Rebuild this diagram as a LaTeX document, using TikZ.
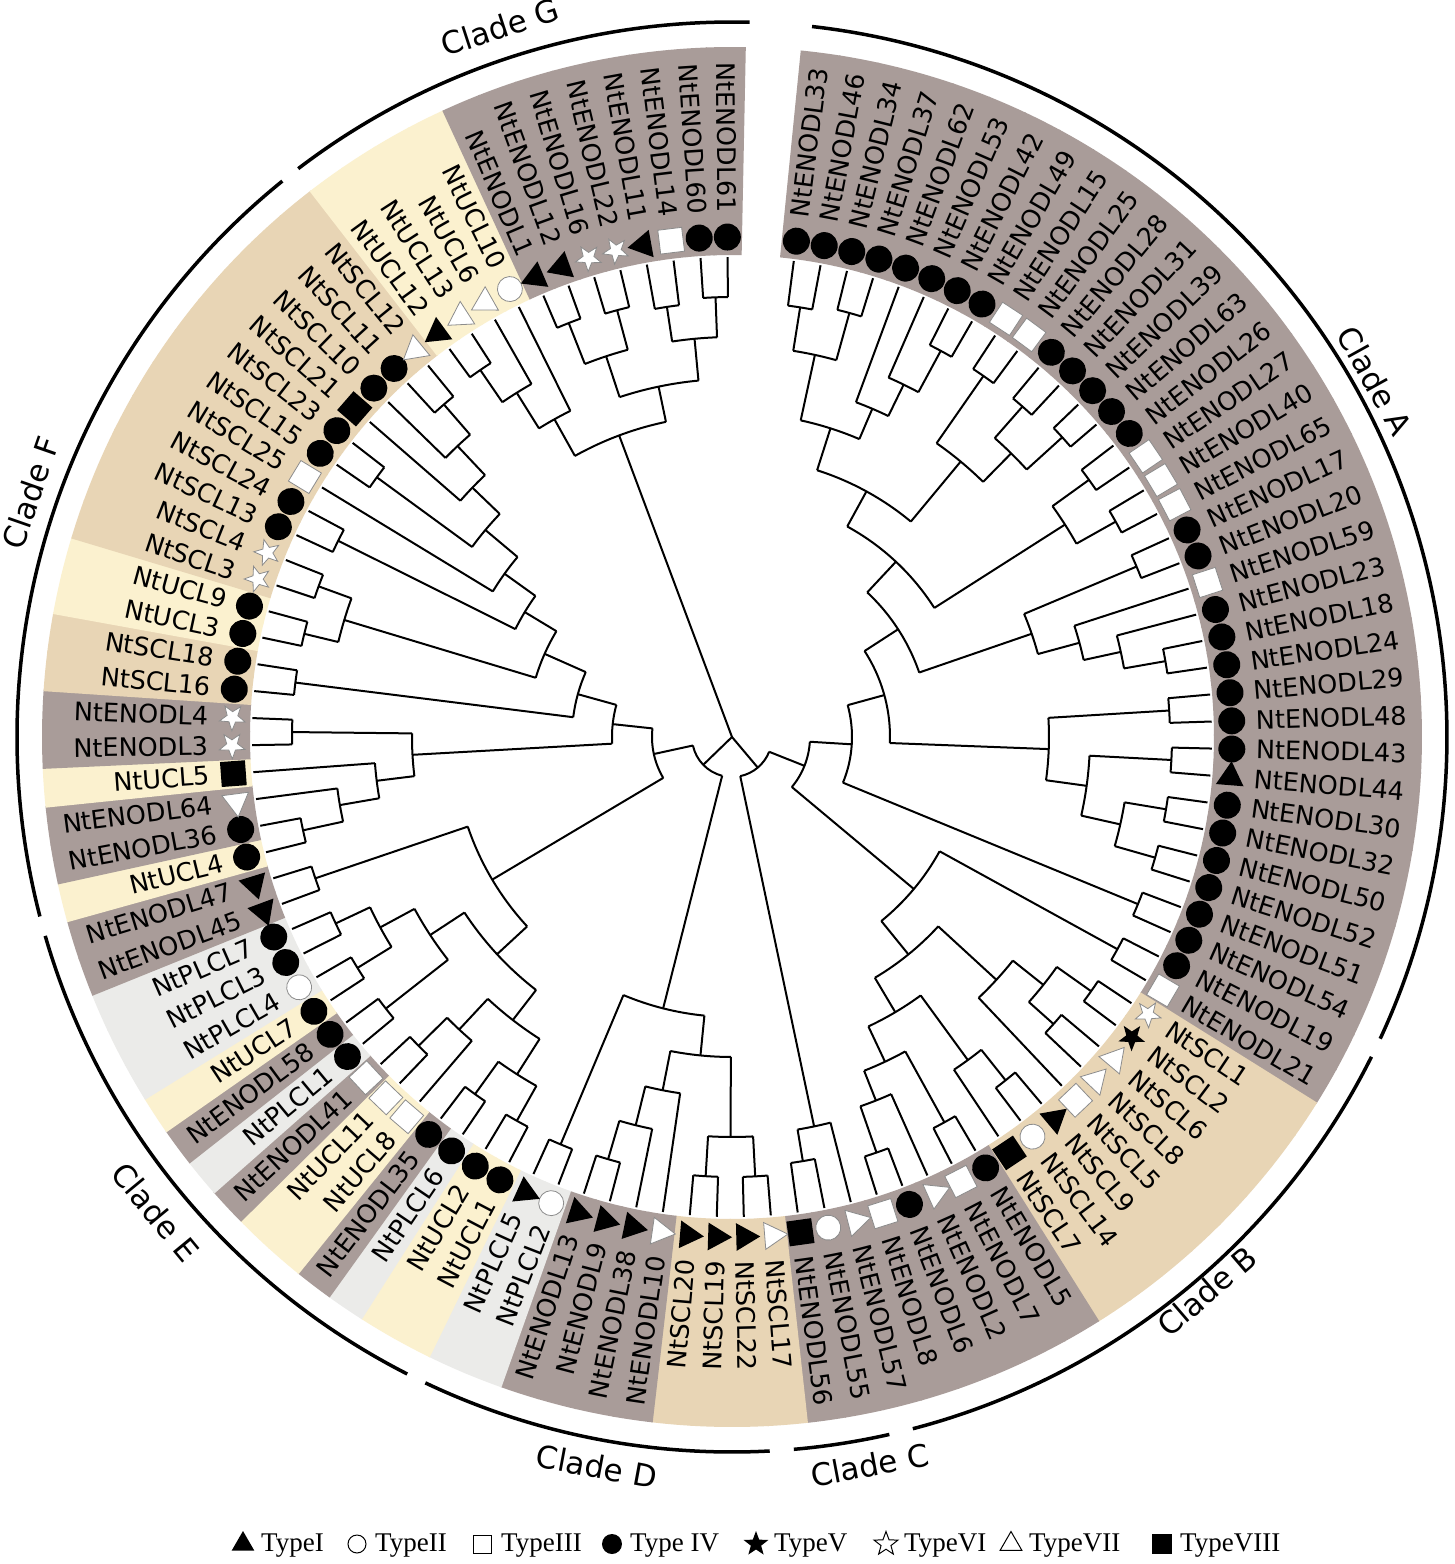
\documentclass[tikz,border=0pt]{standalone}
\usepackage{fontspec}
\setmainfont{DejaVu Sans}
\newfontfamily\legendfont{Liberation Serif}
\usetikzlibrary{shapes.geometric}

\definecolor{enodl}{HTML}{A99C99}
\definecolor{scl}{HTML}{E8D5B5}
\definecolor{ucl}{HTML}{FBF1CF}
\definecolor{plcl}{HTML}{EBEBE9}
\definecolor{rim}{HTML}{8C8C8C}

% angle and radius of every tree node
\newcommand\setnode[3]{%
  \expandafter\xdef\csname na@#1\endcsname{#2}%
  \expandafter\xdef\csname nr@#1\endcsname{#3}}
% join two children at radius #2
\newcommand\jn[4]{%
  \pgfmathsetmacro\ja{\csname na@#3\endcsname}%
  \pgfmathsetmacro\jb{\csname na@#4\endcsname}%
  \draw[branch] (\ja:#2pt) arc[start angle=\ja, end angle=\jb, radius=#2pt]
    (\ja:#2pt) -- (\ja:\csname nr@#3\endcsname pt)
    (\jb:#2pt) -- (\jb:\csname nr@#4\endcsname pt);
  \pgfmathsetmacro\jm{(\ja+\jb)/2}%
  \setnode{#1}{\jm}{#2}}

\newcommand\leaflist{0/enodl/ENODL33/c, 1/enodl/ENODL46/c, 2/enodl/ENODL34/c,
  3/enodl/ENODL37/c, 4/enodl/ENODL62/c, 5/enodl/ENODL53/c, 6/enodl/ENODL42/c,
  7/enodl/ENODL49/c, 8/enodl/ENODL15/s, 9/enodl/ENODL25/s, 10/enodl/ENODL28/c,
  11/enodl/ENODL31/c, 12/enodl/ENODL39/c, 13/enodl/ENODL63/c, 14/enodl/ENODL26/c,
  15/enodl/ENODL27/s, 16/enodl/ENODL40/s, 17/enodl/ENODL65/s, 18/enodl/ENODL17/c,
  19/enodl/ENODL20/c, 20/enodl/ENODL59/s, 21/enodl/ENODL23/c, 22/enodl/ENODL18/c,
  23/enodl/ENODL24/c, 24/enodl/ENODL29/c, 25/enodl/ENODL48/c, 26/enodl/ENODL43/c,
  27/enodl/ENODL44/t, 28/enodl/ENODL30/c, 29/enodl/ENODL32/c, 30/enodl/ENODL50/c,
  31/enodl/ENODL52/c, 32/enodl/ENODL51/c, 33/enodl/ENODL54/c, 34/enodl/ENODL19/c,
  35/enodl/ENODL21/s, 36/scl/SCL1/R, 37/scl/SCL2/r, 38/scl/SCL6/T, 39/scl/SCL8/T,
  40/scl/SCL5/s, 41/scl/SCL9/t, 42/scl/SCL14/o, 43/scl/SCL7/S, 44/enodl/ENODL5/c,
  45/enodl/ENODL7/s, 46/enodl/ENODL2/T, 47/enodl/ENODL6/c, 48/enodl/ENODL8/s,
  49/enodl/ENODL57/T, 50/enodl/ENODL55/o, 51/enodl/ENODL56/S, 52/scl/SCL17/T,
  53/scl/SCL22/t, 54/scl/SCL19/t, 55/scl/SCL20/t, 56/enodl/ENODL10/T,
  57/enodl/ENODL38/t, 58/enodl/ENODL9/t, 59/enodl/ENODL13/t, 60/plcl/PLCL2/o,
  61/plcl/PLCL5/t, 62/ucl/UCL1/c, 63/ucl/UCL2/c, 64/plcl/PLCL6/c, 65/enodl/ENODL35/c,
  66/ucl/UCL8/s, 67/ucl/UCL11/s, 68/enodl/ENODL41/s, 69/plcl/PLCL1/c,
  70/enodl/ENODL58/c, 71/ucl/UCL7/c, 72/plcl/PLCL4/o, 73/plcl/PLCL3/c,
  74/plcl/PLCL7/c, 75/enodl/ENODL45/t, 76/enodl/ENODL47/t, 77/ucl/UCL4/c,
  78/enodl/ENODL36/c, 79/enodl/ENODL64/T, 80/ucl/UCL5/S, 81/enodl/ENODL3/R,
  82/enodl/ENODL4/R, 83/scl/SCL16/c, 84/scl/SCL18/c, 85/ucl/UCL3/c, 86/ucl/UCL9/c,
  87/scl/SCL3/R, 88/scl/SCL4/R, 89/scl/SCL13/c, 90/scl/SCL24/c, 91/scl/SCL25/s,
  92/scl/SCL15/c, 93/scl/SCL23/c, 94/scl/SCL21/S, 95/scl/SCL10/c, 96/scl/SCL11/c,
  97/scl/SCL12/T, 98/ucl/UCL12/t, 99/ucl/UCL13/T, 100/ucl/UCL6/T, 101/ucl/UCL10/o,
  102/enodl/ENODL1/t, 103/enodl/ENODL12/t, 104/enodl/ENODL16/R, 105/enodl/ENODL22/R,
  106/enodl/ENODL11/t, 107/enodl/ENODL14/s, 108/enodl/ENODL60/c, 109/enodl/ENODL61/c}

\begin{document}
\begin{tikzpicture}[
  branch/.style={line width=2pt, line cap=square},
  cladearc/.style={line width=3.5pt},
  lbl/.style={font=\fontsize{25.5}{28}\selectfont, inner sep=0pt},
  cladelbl/.style={font=\fontsize{31}{34}\selectfont, inner sep=0pt},
  legtxt/.style={font=\legendfont\fontsize{27}{30}\selectfont, inner sep=0pt},
  symc/.style={circle, fill=black, minimum size=27pt, inner sep=0pt},
  symo/.style={circle, fill=white, draw=rim, line width=0.8pt, minimum size=25pt, inner sep=0pt},
  syms/.style={rectangle, fill=white, draw=rim, line width=0.8pt, minimum size=24pt, inner sep=0pt},
  symS/.style={rectangle, fill=black, minimum size=25pt, inner sep=0pt},
  symt/.style={regular polygon, regular polygon sides=3, fill=black, minimum size=32pt, inner sep=0pt},
  symT/.style={regular polygon, regular polygon sides=3, fill=white, draw=rim, line width=0.8pt, minimum size=31pt, inner sep=0pt},
  symr/.style={star, star points=5, star point ratio=2.4, fill=black, minimum size=28pt, inner sep=0pt},
  symR/.style={star, star points=5, star point ratio=2.4, fill=white, draw=rim, line width=0.8pt, minimum size=27pt, inner sep=0pt},
  legc/.style={circle, fill=black, minimum size=20pt, inner sep=0pt},
  lego/.style={circle, draw=black, line width=1pt, minimum size=18pt, inner sep=0pt},
  legs/.style={rectangle, draw=black, line width=1pt, minimum size=18pt, inner sep=0pt},
  legS/.style={rectangle, fill=black, minimum size=20pt, inner sep=0pt},
  legt/.style={regular polygon, regular polygon sides=3, fill=black, minimum size=26pt, inner sep=0pt},
  legT/.style={regular polygon, regular polygon sides=3, draw=black, line width=1pt, minimum size=25pt, inner sep=0pt},
  legr/.style={star, star points=5, star point ratio=2.4, fill=black, minimum size=26pt, inner sep=0pt},
  legR/.style={star, star points=5, star point ratio=2.4, draw=black, line width=1pt, minimum size=25pt, inner sep=0pt},
]
\useasboundingbox[fill=white] (-732pt,-827pt) rectangle (723pt,737pt);

% coloured bands behind the labels
\foreach \i/\fm/\txt/\sym in \leaflist {
  \pgfmathsetmacro\a{82.6-3.23*\i}
  \pgfmathsetmacro\aL{\a+1.68}
  \pgfmathsetmacro\aR{\a-1.68}
  \fill[\fm] (\aL:482pt) arc[start angle=\aL, end angle=\aR, radius=482pt]
    -- (\aR:690pt) arc[start angle=\aR, end angle=\aL, radius=690pt] -- cycle;
}

% leaf tips
\foreach \i in {0,...,109} {
  \pgfmathsetmacro\a{82.6-3.23*\i}
  \setnode{l\i}{\a}{480}
}

% clade A
\jn{a01}{435}{l0}{l1}
\jn{a23}{440}{l2}{l3}
\jn{a03}{391}{a01}{a23}
\jn{a67}{439}{l6}{l7}
\jn{a57}{392}{l5}{a67}
\jn{a47}{357}{l4}{a57}
\jn{a07}{324}{a03}{a47}
\jn{a89}{440}{l8}{l9}
\jn{a1011}{440}{l10}{l11}
\jn{a1213}{446}{l12}{l13}
\jn{a1013}{398}{a1011}{a1213}
\jn{a813}{358}{a89}{a1013}
\jn{a013}{280}{a07}{a813}
\jn{a1415}{440}{l14}{l15}
\jn{a1617}{440}{l16}{l17}
\jn{a1417}{395}{a1415}{a1617}
\jn{a017}{240}{a013}{a1417}
\jn{a1819}{439}{l18}{l19}
\jn{a2223}{440}{l22}{l23}
\jn{a2123}{398}{l21}{a2223}
\jn{a2023}{360}{l20}{a2123}
\jn{a1823}{317}{a1819}{a2023}
\jn{a0023}{198}{a017}{a1823}
\jn{a2425}{438}{l24}{l25}
\jn{a2627}{440}{l26}{l27}
\jn{a2829}{440}{l28}{l29}
\jn{a3031}{440}{l30}{l31}
\jn{a2831}{398}{a2829}{a3031}
\jn{a2631}{358}{a2627}{a2831}
\jn{a2431}{317}{a2425}{a2631}
\jn{a0031}{158}{a0023}{a2431}
\jn{a3233}{439}{l32}{l33}
\jn{cA}{120}{a0031}{a3233}
% clade B
\jn{b3435}{440}{l34}{l35}
\jn{b3637}{440}{l36}{l37}
\jn{b3839}{431}{l38}{l39}
\jn{b3639}{398}{b3637}{b3839}
\jn{b3640}{359}{b3639}{l40}
\jn{b4142}{439}{l41}{l42}
\jn{b4143}{400}{b4142}{l43}
\jn{b4445}{440}{l44}{l45}
\jn{b4748}{440}{l47}{l48}
\jn{b4648}{391}{l46}{b4748}
\jn{b4448}{359}{b4445}{b4648}
\jn{b4148}{320}{b4143}{b4448}
\jn{b3648}{280}{b3640}{b4148}
\jn{cB}{237}{b3435}{b3648}
\jn{rAB}{78}{cA}{cB}
% clade C
\jn{c5051}{430}{l50}{l51}
\jn{cC}{398}{l49}{c5051}
\jn{rABC}{40}{rAB}{cC}
% clade D
\jn{d6061}{442}{l60}{l61}
\jn{d5859}{440}{l58}{l59}
\jn{d5759}{400}{l57}{d5859}
\jn{d5659}{360}{l56}{d5759}
\jn{d5455}{440}{l54}{l55}
\jn{d5253}{440}{l52}{l53}
\jn{d5255}{400}{d5253}{d5455}
\jn{d5259}{320}{d5255}{d5659}
\jn{cD}{280}{d5259}{d6061}
% clade E
\jn{e6263}{440}{l62}{l63}
\jn{e6465}{440}{l64}{l65}
\jn{e6265}{400}{e6263}{e6465}
\jn{e6768}{440}{l67}{l68}
\jn{e6668}{400}{l66}{e6768}
\jn{e6268}{358}{e6265}{e6668}
\jn{e6970}{440}{l69}{l70}
\jn{e7172}{440}{l71}{l72}
\jn{e7374}{438}{l73}{l74}
\jn{e7174}{400}{e7172}{e7374}
\jn{e6974}{361}{e6970}{e7174}
\jn{e6274}{320}{e6268}{e6974}
\jn{e7576}{440}{l75}{l76}
\jn{cE}{279}{e6274}{e7576}
% clade F
\jn{f7778}{439}{l77}{l78}
\jn{f7779}{398}{f7778}{l79}
\jn{f7780}{358}{f7779}{l80}
\jn{f8182}{440}{l81}{l82}
\jn{f7782}{320}{f7780}{f8182}
\jn{f9697}{440}{l96}{l97}
\jn{f9597}{400}{l95}{f9697}
\jn{f9497}{360}{l94}{f9597}
\jn{f9293}{440}{l92}{l93}
\jn{f9297}{322}{f9293}{f9497}
\jn{f9197}{280}{l91}{f9297}
\jn{f8990}{440}{l89}{l90}
\jn{f8997}{242}{f8990}{f9197}
\jn{f8586}{440}{l85}{l86}
\jn{f8788}{440}{l87}{l88}
\jn{f8588}{405}{f8586}{f8788}
\jn{f8597}{205}{f8588}{f8997}
\jn{f8384}{440}{l83}{l84}
\jn{f8397}{160}{f8384}{f8597}
\jn{cF}{120}{f7782}{f8397}
\jn{lEF}{80}{cE}{cF}
\jn{lDEF}{40}{cD}{lEF}
% clade G
\jn{g9899}{445}{l98}{l99}
\jn{g98100}{406}{g9899}{l100}
\jn{gU}{364}{g98100}{l101}
\jn{g102103}{445}{l102}{l103}
\jn{g104105}{442}{l104}{l105}
\jn{g102105}{401}{g102103}{g104105}
\jn{g106107}{435}{l106}{l107}
\jn{g108109}{440}{l108}{l109}
\jn{g106109}{400}{g106107}{g108109}
\jn{gE}{358}{g102105}{g106109}
\jn{cG}{322}{gU}{gE}
% root
\pgfmathsetmacro\ra{\csname na@cG\endcsname}
\pgfmathsetmacro\rb{\csname na@rABC\endcsname}
\pgfmathsetmacro\rc{\csname na@lDEF\endcsname}
\draw[branch] (0pt,0pt) -- (\ra:322pt) (0pt,0pt) -- (\rb:40pt) (0pt,0pt) -- (\rc:40pt);

% symbols and names
\foreach \i/\fm/\txt/\sym in \leaflist {
  \pgfmathsetmacro\a{82.6-3.23*\i}
  \edef\st{sym\sym}
  \node[\st, rotate=\a] (s\i) at (\a:500pt) {};
  \ifdim\a pt>-90pt
    \node[lbl, anchor=west, rotate=\a] (n\i) at (\a:524pt) {Nt\txt};
  \else
    \node[lbl, anchor=east, rotate=\a+180] (n\i) at (\a:524pt) {Nt\txt};
  \fi
}

% clade arcs
\foreach \s/\e in {-0.3/33.3, 33.8/48.9, 49.5/51.9, 52.5/61.3, 61.8/76.3, 76.8/97.1, 97.6/109.6} {
  \pgfmathsetmacro\as{82.6-3.23*\s}
  \pgfmathsetmacro\ae{82.6-3.23*\e}
  \draw[cladearc] (\as:715pt) arc[start angle=\as, end angle=\ae, radius=715pt];
}
\foreach \ang/\r/\nm in {29/735/A, -49.4/730/B, -79.3/741/C, -100.5/742/D, 219.5/747/E, 160.8/743/F, 108.1/747/G} {
  \pgfmathsetmacro\rot{sin(\ang)>=0 ? \ang-90 : \ang+90}
  \node[cladelbl, rotate=\rot] (cl\nm) at (\ang:\r pt) {Clade \nm};
}

% legend
\foreach \x/\sym/\t in {-489/t/TypeI, -375/o/TypeII, -249/s/TypeIII, -120/c/Type IV,
    24/r/TypeV, 154/R/TypeVI, 279/T/TypeVII, 430/S/TypeVIII} {
  \edef\st{leg\sym}
  \node[\st] (k\sym) at (\x pt,-807pt) {};
  \node[legtxt, anchor=west] (kt\sym) at (\x pt+18pt,-809pt) {\t};
}
\end{tikzpicture}
\end{document}
